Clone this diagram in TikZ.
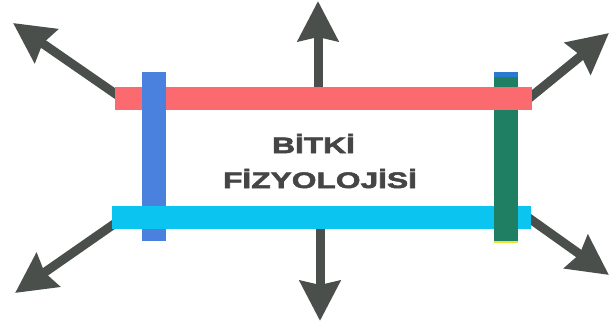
\documentclass[tikz,border=0pt]{standalone}
\usepackage{fontspec}
\setmainfont{Liberation Sans}
\newfontfamily\titlefont[FakeBold=2.2]{Liberation Sans Bold}
\usetikzlibrary{arrows.meta}
\definecolor{arrgray}{HTML}{4A4F4C}
\definecolor{barred}{HTML}{FA6A6E}
\definecolor{barblue}{HTML}{4A80DE}
\definecolor{barcyan}{HTML}{0CC4F0}
\definecolor{bargreen}{HTML}{1E7F62}
\definecolor{capblue}{HTML}{2A7BD0}
\definecolor{capyellow}{HTML}{F2E230}
\definecolor{txtgray}{HTML}{454545}
\tikzset{
  bigarrow/.style={draw=arrgray, line width=9pt,
    -{Stealth[inset=4pt,length=40pt,width=40pt]}, fill=arrgray},
  hbar/.style={rectangle, inner sep=0pt, minimum height=23pt},
  vbar/.style={rectangle, inner sep=0pt, minimum width=24pt},
  title/.style={font=\titlefont\fontsize{22.5}{22.5}\selectfont, text=txtgray, inner sep=0pt, xscale=1.41, transform shape}
}
\begin{document}
\begin{tikzpicture}[x=1pt,y=-1pt]
\useasboundingbox (0,0) rectangle (610,326);
% tips
\coordinate (tT) at (318,1);
\coordinate (tUL) at (13,23);
\coordinate (tUR) at (609,33);
\coordinate (tLL) at (15,293);
\coordinate (tB) at (320,321);
\coordinate (tLR) at (609,275);
\coordinate (sT) at (318,92);
\coordinate (sUL) at (120,97);
\coordinate (sUR) at (527,100);
\coordinate (sLL) at (117,222);
\coordinate (sB) at (320,224);
\coordinate (sLR) at (526,216);
% arrows
\draw[bigarrow] (sT) -- (tT);
\draw[bigarrow] (sUL) -- (tUL);
\draw[bigarrow] (sUR) -- (tUR);
\draw[bigarrow] (sLL) -- (tLL);
\draw[bigarrow] (sB) -- (tB);
\draw[bigarrow] (sLR) -- (tLR);
% bars
\node[vbar, fill=bargreen, minimum height=171pt] (green) at (506,157.5) {};
\fill[capblue] (green.north west) rectangle ++(24,5);
\node[hbar, fill=barred, minimum width=417pt] (red) at (323.5,98.5) {};
\node[vbar, fill=barblue, minimum height=169pt] (blue) at (154,156.5) {};
\node[hbar, fill=barcyan, minimum width=419pt] (cyan) at (321.5,217.5) {};
\fill[bargreen] (494,206) rectangle (518,241);
\fill[capyellow] (494,240.5) rectangle (518,243);
% text
\node[title] (t1) at (313.5,143.5) {BİTKİ};
\node[title] (t2) at (320,178.5) {FİZYOLOJİSİ};
\end{tikzpicture}
\end{document}
